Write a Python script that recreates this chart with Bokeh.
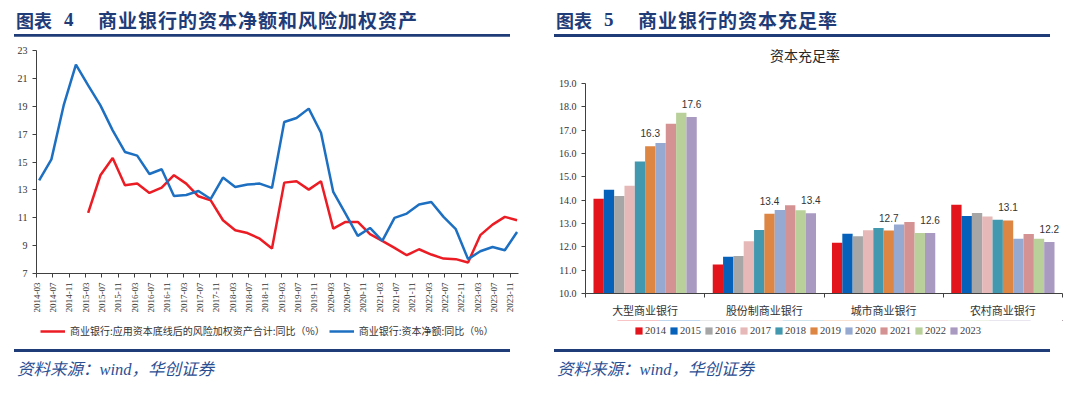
import math
from bokeh.plotting import figure
from bokeh.models import (Legend, LegendItem, FixedTicker, ColumnDataSource, Range1d,
                          NumeralTickFormatter, Div)
from bokeh.layouts import row, column
from bokeh.embed import file_html
from bokeh.resources import INLINE
from bokeh.core.properties import value

# ---------------- data: left chart (quarterly, YoY %) ----------------
quarters = ["2014-03", "2014-06", "2014-09", "2014-12", "2015-03", "2015-06", "2015-09", "2015-12",
            "2016-03", "2016-06", "2016-09", "2016-12", "2017-03", "2017-06", "2017-09", "2017-12",
            "2018-03", "2018-06", "2018-09", "2018-12", "2019-03", "2019-06", "2019-09", "2019-12",
            "2020-03", "2020-06", "2020-09", "2020-12", "2021-03", "2021-06", "2021-09", "2021-12",
            "2022-03", "2022-06", "2022-09", "2022-12", "2023-03", "2023-06", "2023-09", "2023-12"]
rwa_yoy = [None, None, None, None, 11.35, 14.05, 15.29, 13.33,
           13.45, 12.78, 13.16, 14.05, 13.45, 12.54, 12.25, 10.82,
           10.10, 9.90, 9.50, 8.79, 13.52, 13.62, 13.02, 13.62,
           10.22, 10.70, 10.70, 9.82, 9.34, 8.84, 8.31, 8.74,
           8.36, 8.07, 8.03, 7.79, 9.75, 10.51, 11.06, 10.82]
capital_yoy = [13.69, 15.19, 19.06, 21.98, 20.50, 19.06, 17.27, 15.72,
               15.46, 14.14, 14.48, 12.56, 12.63, 12.92, 12.35, 13.88,
               13.21, 13.38, 13.45, 13.14, 17.87, 18.16, 18.83, 17.10,
               12.85, 11.30, 9.70, 10.27, 9.34, 10.99, 11.30, 11.95,
               12.13, 11.06, 10.18, 8.03, 8.60, 8.90, 8.67, 9.98]
left_tick_labels = ["2014-03", "2014-07", "2014-11", "2015-03", "2015-07", "2015-11",
                    "2016-03", "2016-07", "2016-11", "2017-03", "2017-07", "2017-11",
                    "2018-03", "2018-07", "2018-11", "2019-03", "2019-07", "2019-11",
                    "2020-03", "2020-07", "2020-11", "2021-03", "2021-07", "2021-11",
                    "2022-03", "2022-07", "2022-11", "2023-03", "2023-07", "2023-11"]
left_yticks = [7, 9, 11, 13, 15, 17, 19, 21, 23]
rwa_name = "商业银行:应用资本底线后的风险加权资产合计:同比（%）"
cap_name = "商业银行:资本净额:同比（%）"

# ---------------- data: right chart (capital adequacy ratio, %) ----------------
bank_types = ["大型商业银行", "股份制商业银行", "城市商业银行", "农村商业银行"]
years = ["2014", "2015", "2016", "2017", "2018", "2019", "2020", "2021", "2022", "2023"]
car_2014 = [14.06, 11.24, 12.18, 13.80]
car_2015 = [14.45, 11.57, 12.56, 13.32]
car_2016 = [14.18, 11.61, 12.45, 13.45]
car_2017 = [14.62, 12.24, 12.71, 13.30]
car_2018 = [15.66, 12.72, 12.81, 13.16]
car_2019 = [16.31, 13.42, 12.70, 13.13]
car_2020 = [16.45, 13.58, 12.96, 12.35]
car_2021 = [17.27, 13.78, 13.06, 12.55]
car_2022 = [17.75, 13.57, 12.59, 12.35]
car_2023 = [17.56, 13.44, 12.59, 12.21]
car_by_year = [car_2014, car_2015, car_2016, car_2017, car_2018,
               car_2019, car_2020, car_2021, car_2022, car_2023]
labelled_years = ["2019", "2023"]
right_yticks = [10, 11, 12, 13, 14, 15, 16, 17, 18, 19]

# ---------------- styles ----------------
NAVY = "#1F3C78"
SRC_BLUE = "#2B4F93"
RED = "#EC1C24"
BLUE = "#1D6FC2"
AXIS = "#404040"
CJK = "Noto Sans CJK SC"
SERIF = "Liberation Serif"
bar_colors = ["#E3141C", "#0561BA", "#A6A6A6", "#E6B9B8", "#4298AE",
              "#DD8542", "#95A9D1", "#D49292", "#B9D09A", "#A99AC1"]


def month_pos(q):
    y, m = q.split("-")
    return (int(y) - 2014) * 12 + (int(m) - 3)


def style_axes(p):
    p.xgrid.visible = False
    p.ygrid.visible = False
    p.outline_line_color = None
    p.background_fill_color = "white"
    p.border_fill_color = "white"
    for ax in (p.xaxis[0], p.yaxis[0]):
        ax.axis_line_color = AXIS
        ax.major_tick_line_color = AXIS
        ax.minor_tick_line_color = None
        ax.major_tick_in = 0
        ax.major_tick_out = 4
        ax.major_label_text_color = "#333333"


def legend_fig(height, b_left, b_right):
    # strip below a chart that only carries its legend (its key renderers fall outside its ranges)
    f = figure(width=540, height=height, title=None, x_range=Range1d(0, 1), y_range=Range1d(0, 1),
               x_axis_type=None, y_axis_type=None, output_backend="svg", toolbar_location=None,
               min_border_left=b_left, min_border_right=b_right, min_border_top=0, min_border_bottom=0)
    f.xgrid.visible = False
    f.ygrid.visible = False
    f.outline_line_color = None
    f.border_fill_color = "white"
    return f


def header_div(num, title, height, sub=None):
    html = (f'<div style="position:relative;width:540px;height:{height}px;">'
            f'<span style="position:absolute;left:16px;top:10px;font-family:\'{CJK}\';font-size:18px;'
            f'line-height:20px;font-weight:bold;color:{NAVY};white-space:nowrap;">图表</span>'
            f'<span style="position:absolute;left:64px;top:10px;font-family:\'{SERIF}\';font-size:19px;'
            f'line-height:20px;font-weight:bold;color:{NAVY};white-space:nowrap;">{num}</span>'
            f'<span style="position:absolute;left:98px;top:10px;font-family:\'{CJK}\';font-size:19px;'
            f'line-height:20px;font-weight:bold;letter-spacing:1px;color:{NAVY};white-space:nowrap;">{title}</span>'
            f'<div style="position:absolute;left:14px;top:34px;width:496px;height:2.6px;background:{NAVY};"></div>')
    if sub:
        html += (f'<span style="position:absolute;left:265px;top:46px;transform:translateX(-50%);'
                 f'font-family:\'{CJK}\';font-size:14px;line-height:18px;color:#262626;white-space:nowrap;">{sub}</span>')
    html += '</div>'
    return Div(text=html, width=540, height=height, margin=0, styles={"overflow": "visible"})


def footer_div():
    html = (f'<div style="position:relative;width:540px;height:52px;">'
            f'<div style="position:absolute;left:14px;top:6.5px;width:496px;height:3px;background:{NAVY};"></div>'
            f'<span style="position:absolute;left:17px;top:17px;font-family:\'{SERIF}\',\'{CJK}\';font-size:16.5px;'
            f'line-height:22px;font-style:italic;color:{SRC_BLUE};white-space:nowrap;">资料来源：wind，华创证券</span>'
            f'</div>')
    return Div(text=html, width=540, height=52, margin=0, styles={"overflow": "visible"})


# ================= left chart =================
p1 = figure(width=540, height=280, title=None, x_range=Range1d(0, 118), y_range=Range1d(7, 23),
            output_backend="svg", toolbar_location=None,
            min_border_left=36, min_border_right=22, min_border_top=14, min_border_bottom=43)
style_axes(p1)
xs = [month_pos(q) + 0.65 for q in quarters]
rwa_x = [x for x, v in zip(xs, rwa_yoy) if v is not None]
rwa_y = [v for v in rwa_yoy if v is not None]
p1.line(rwa_x, rwa_y, line_color=RED, line_width=2.5)
p1.line(xs, capital_yoy, line_color=BLUE, line_width=2.5)

tick_pos = [month_pos(t) for t in left_tick_labels]
p1.xaxis.ticker = FixedTicker(ticks=tick_pos)
p1.xaxis.major_label_overrides = {t: lab for t, lab in zip(tick_pos, left_tick_labels)}
p1.xaxis.major_label_orientation = math.pi / 2
p1.xaxis.major_label_text_font = SERIF
p1.xaxis.major_label_text_font_size = "9px"
p1.xaxis.major_label_standoff = 5
p1.yaxis.ticker = FixedTicker(ticks=left_yticks)
p1.yaxis.major_label_text_font = SERIF
p1.yaxis.major_label_text_font_size = "10px"
p1.yaxis.major_label_standoff = 5

lf1 = legend_fig(26, 36, 22)
k_rwa = lf1.line(rwa_x, rwa_y, line_color=RED, line_width=2.5)
k_cap = lf1.line(xs, capital_yoy, line_color=BLUE, line_width=2.5)
lf1.add_layout(Legend(items=[LegendItem(label=rwa_name, renderers=[k_rwa]),
                             LegendItem(label=cap_name, renderers=[k_cap])],
                      orientation="horizontal", nrows=1, location=(4, 4),
                      glyph_width=25, glyph_height=12, label_height=12, label_standoff=5, spacing=4,
                      padding=0, margin=0, border_line_color=None, background_fill_alpha=0,
                      label_text_font=CJK, label_text_font_size="10px", label_text_color="#333333"))

# ================= right chart =================
p2 = figure(width=540, height=256, title=None, x_range=Range1d(0, 4), y_range=Range1d(10, 19),
            output_backend="svg", toolbar_location=None,
            min_border_left=45, min_border_right=18, min_border_top=19, min_border_bottom=27)
style_axes(p2)
n = len(years)
bw = 0.0866
lf2 = legend_fig(22, 45, 18)
items = []
for k, (yr, vals, col) in enumerate(zip(years, car_by_year, bar_colors)):
    bx = [i + 0.5 + (k - (n - 1) / 2) * bw for i in range(len(bank_types))]
    p2.vbar(x=bx, top=vals, bottom=10, width=bw, fill_color=col, line_color=None)
    key = lf2.vbar(x=bx, top=vals, bottom=10, width=bw, fill_color=col, line_color=None)
    items.append(LegendItem(label=yr, renderers=[key]))
    if yr in labelled_years:
        lsrc = ColumnDataSource(dict(x=bx, y=vals, t=[f"{v:.1f}" for v in vals]))
        p2.text("x", "y", text="t", source=lsrc, text_align="center", text_baseline="middle",
                y_offset=-13, text_font=value("Liberation Sans"), text_font_size="10px",
                text_color="#333333")

p2.xaxis.ticker = FixedTicker(ticks=[i + 0.5 for i in range(len(bank_types))],
                              minor_ticks=list(range(len(bank_types) + 1)))
p2.xaxis.major_label_overrides = {i + 0.5: b for i, b in enumerate(bank_types)}
p2.xaxis.major_tick_out = 0
p2.xaxis.minor_tick_line_color = AXIS
p2.xaxis.minor_tick_in = 0
p2.xaxis.minor_tick_out = 4
p2.xaxis.major_label_standoff = 4
p2.xaxis.major_label_text_font = CJK
p2.xaxis.major_label_text_font_size = "11px"
p2.yaxis.ticker = FixedTicker(ticks=right_yticks)
p2.yaxis.formatter = NumeralTickFormatter(format="0.0")
p2.yaxis.major_label_text_font = SERIF
p2.yaxis.major_label_text_font_size = "10px"
p2.yaxis.major_label_standoff = 5

lf2.add_layout(Legend(items=items, orientation="horizontal", nrows=1, location=(49, 6),
                      glyph_width=9, glyph_height=9, label_height=9, label_standoff=2, spacing=3,
                      padding=0, margin=0, border_line_color=None, background_fill_alpha=0,
                      label_text_font=SERIF, label_text_font_size="10.5px", label_text_color="#404040"))

left = column(header_div("4", "商业银行的资本净额和风险加权资产", 36), p1, lf1, footer_div(), spacing=0)
right = column(header_div("5", "商业银行的资本充足率", 64, sub="资本充足率"), p2, lf2, footer_div(), spacing=0)
layout = row(left, right, spacing=0)
open("out.html", "w").write(file_html(layout, INLINE))
